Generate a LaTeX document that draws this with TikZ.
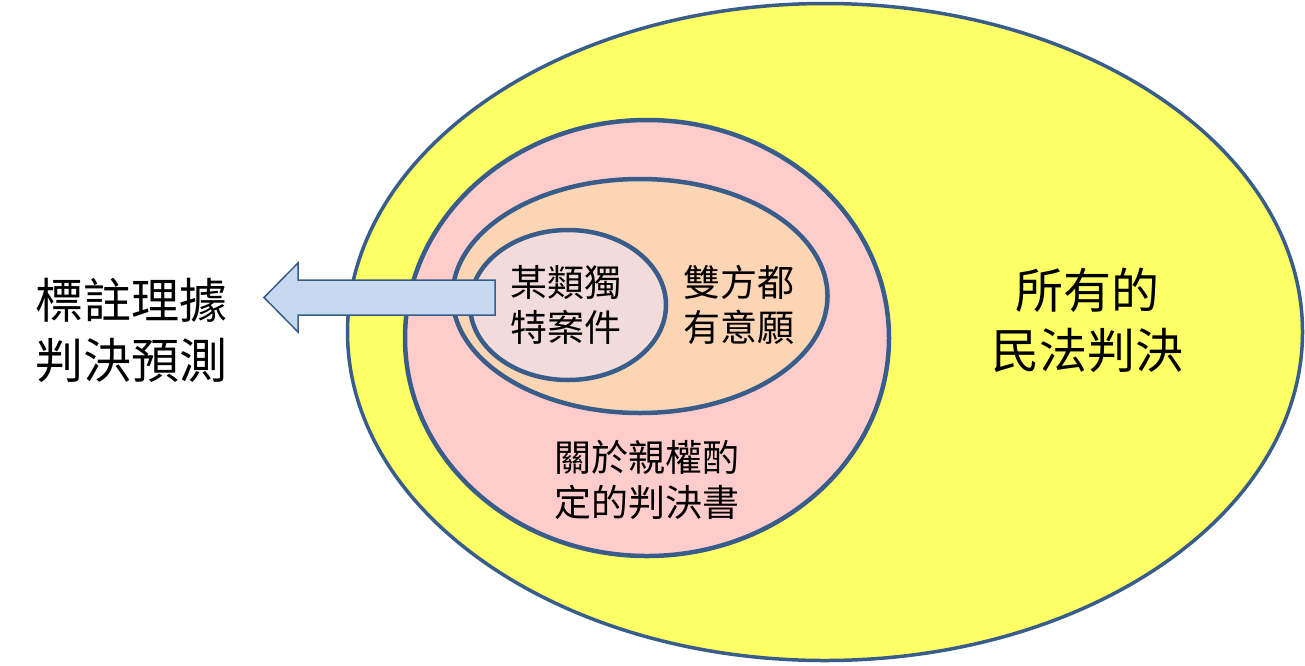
\documentclass[tikz,border=0pt]{standalone}
\usepackage{fontspec}
\usetikzlibrary{shapes.geometric}
\newfontfamily\cjk{Noto Sans CJK TC}
\definecolor{bord}{HTML}{385D8A}
\definecolor{jaune}{HTML}{FFFF66}
\definecolor{rose}{HTML}{FFCCCC}
\definecolor{peche}{HTML}{FCD5B5}
\definecolor{pale}{HTML}{F2DCDB}
\definecolor{fleche}{HTML}{C6D9F1}
\tikzset{
    ens/.style={ellipse,draw=bord,line width=4.5pt,inner sep=0pt},
    petit/.style={align=center,font=\cjk\fontsize{37}{45}\selectfont},
    grand/.style={align=center,font=\cjk\fontsize{48}{60}\selectfont},
    blockarr/.style={draw=bord,line width=1.5pt,fill=fleche,line join=miter},
  }
\begin{document}
\begin{tikzpicture}[x=1pt,y=-1pt]
          %cadre
          \useasboundingbox (0,0) rectangle (1305,665);
          %ensembles
          \node[ens,line width=3.5pt,fill=jaune,minimum width=955pt,minimum height=657pt] (tout) at (825,332) {};
          \node[ens,fill=rose,minimum width=484pt,minimum height=436pt] (parent) at (647,338) {};
          \node[ens,fill=peche,minimum width=375pt,minimum height=234pt] (accord) at (640,296) {};
          \node[ens,fill=pale,minimum width=196pt,minimum height=150pt] (unique) at (568,305) {};
          %fleche
          \coordinate (tip) at (264,297.5);
          \draw[blockarr] (tip) -- ++(34,-34.5) -- ++(0,17) -- ++(197,0) -- ++(0,35)
                -- ++(-197,0) -- ++(0,17) -- cycle;
          %textes
          \node[grand] (pred) at (131,330) {標註理據\\判決預測};
          \node[grand] (civil) at (1087,320) {所有的\\民法判決};
          \node[petit] (tunique) at (566,305) {某類獨\\特案件};
          \node[petit] (taccord) at (739,305) {雙方都\\有意願};
          \node[petit] (tparent) at (647,480) {關於親權酌\\定的判決書};
\end{tikzpicture}
\end{document}
